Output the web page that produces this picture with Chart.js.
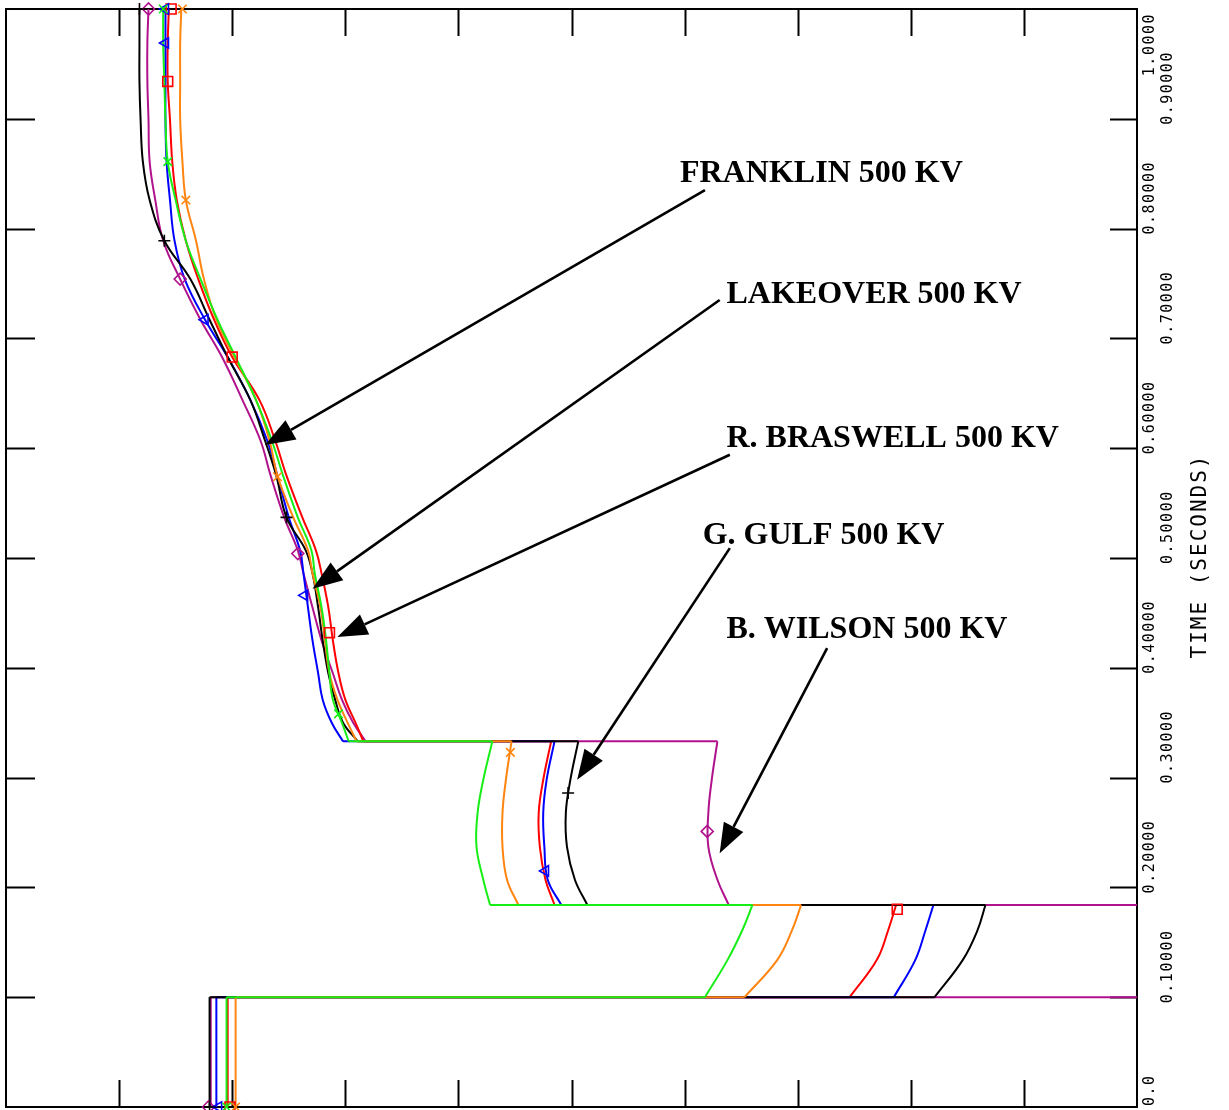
<!DOCTYPE html>
<html>
<head>
<meta charset="utf-8">
<script src="https://cdn.jsdelivr.net/npm/chart.js@4.4.1/dist/chart.umd.min.js"></script>
<style>
  html, body { margin: 0; padding: 0; background: #fff; }
  #wrap { width: 1229px; height: 1110px; }
</style>
</head>
<body>
<div id="wrap"><canvas id="voltChart" width="1229" height="1110"></canvas></div>
<script>
// time samples shared by every bus (seconds); repeated values are the switching steps
const time = [0, 0.1, 0.1, 0.134, 0.161, 0.184, 0.184, 0.207, 0.237, 0.268, 0.298, 0.333,
  0.333, 0.35, 0.371, 0.395, 0.425, 0.455, 0.486, 0.507, 0.537, 0.575, 0.607, 0.644,
  0.683, 0.717, 0.754, 0.789, 0.826, 0.861, 0.899, 0.934, 0.969, 1.0];

// bus values along the horizontal axis (10 divisions, unlabeled)
const blackV = [1.80, 1.80, 8.21, 8.46, 8.59, 8.66, 5.14, 5.03, 4.96, 4.95, 4.99, 5.06,
  3.11, 2.98, 2.91, 2.85, 2.80, 2.76, 2.71, 2.65, 2.48, 2.39, 2.29, 2.16,
  1.96, 1.80, 1.63, 1.40, 1.27, 1.21, 1.19, 1.18, 1.18, 1.18];
const magentaV = [1.81, 1.81, 11, 11, 11, 11, 6.39, 6.29, 6.21, 6.21, 6.24, 6.29,
  3.18, 3.07, 2.97, 2.89, 2.79, 2.71, 2.63, 2.58, 2.46, 2.34, 2.25, 2.09,
  1.91, 1.72, 1.54, 1.39, 1.32, 1.27, 1.26, 1.25, 1.25, 1.26];
const blueV = [1.86, 1.86, 7.85, 8.04, 8.13, 8.20, 4.91, 4.79, 4.76, 4.75, 4.78, 4.85,
  2.98, 2.88, 2.80, 2.76, 2.71, 2.67, 2.63, 2.60, 2.50, 2.40, 2.31, 2.16,
  1.96, 1.76, 1.58, 1.49, 1.45, 1.42, 1.41, 1.41, 1.41, 1.41];
const redV = [1.96, 1.96, 7.46, 7.70, 7.80, 7.87, 4.85, 4.77, 4.72, 4.71, 4.75, 4.82,
  3.16, 3.09, 3.00, 2.94, 2.89, 2.85, 2.79, 2.74, 2.62, 2.48, 2.38, 2.24,
  2.00, 1.84, 1.70, 1.59, 1.51, 1.47, 1.45, 1.43, 1.43, 1.44];
const orangeV = [2.03, 2.03, 6.53, 6.82, 6.95, 7.03, 4.53, 4.43, 4.39, 4.39, 4.42, 4.47,
  3.10, 3.02, 2.93, 2.86, 2.82, 2.78, 2.71, 2.67, 2.54, 2.40, 2.33, 2.21,
  2.02, 1.86, 1.75, 1.68, 1.59, 1.56, 1.54, 1.54, 1.54, 1.55];
const greenV = [1.95, 1.95, 6.18, 6.38, 6.51, 6.60, 4.28, 4.22, 4.16, 4.17, 4.22, 4.30,
  3.03, 2.97, 2.89, 2.86, 2.83, 2.79, 2.73, 2.70, 2.58, 2.45, 2.35, 2.21,
  2.03, 1.87, 1.72, 1.59, 1.50, 1.43, 1.41, 1.40, 1.39, 1.39];

// symbol positions along each curve
const blackMarkT = [0, 0.286, 0.537, 0.789, 1.0];
const blackMarkV = [1.80, 4.97, 2.48, 1.40, 1.18];
const magentaMarkT = [0, 0.251, 0.504, 0.754, 1.0];
const magentaMarkV = [1.79, 6.20, 2.58, 1.54, 1.26];
const blueMarkT = [0, 0.215, 0.466, 0.717, 0.969, 1.0];
const blueMarkV = [1.88, 4.77, 2.64, 1.76, 1.41, 1.41];
const redMarkT = [0, 0.18, 0.432, 0.683, 0.934, 1.0];
const redMarkV = [1.98, 7.88, 2.86, 2.00, 1.43, 1.46];
const orangeMarkT = [0, 0.323, 0.574, 0.826, 1.0];
const orangeMarkV = [2.03, 4.46, 2.40, 1.59, 1.56];
const greenMarkT = [0, 0.358, 0.861, 1.0];
const greenMarkV = [1.95, 2.94, 1.43, 1.39];

const timeTicks = [0, 0.1, 0.2, 0.3, 0.4, 0.5, 0.6, 0.7, 0.8, 0.9, 1.0];
const timeTickLabels = ["0.0", "0.10000", "0.20000", "0.30000", "0.40000", "0.50000",
  "0.60000", "0.70000", "0.80000", "0.90000", "1.0000"];
const valueTicks = [1, 2, 3, 4, 5, 6, 7, 8, 9];

const busLabels = ["FRANKLIN 500 KV", "LAKEOVER 500 KV", "R. BRASWELL 500 KV", "G. GULF 500 KV", "B. WILSON 500 KV"];

// callout placement (text anchor, arrow tail and tip in axis units)
const callouts = [
  { text: busLabels[0], at: [5.96, 0.842], from: [6.18, 0.835], to: [2.29, 0.603] },
  { text: busLabels[1], at: [6.37, 0.732], from: [6.31, 0.735], to: [2.71, 0.472] },
  { text: busLabels[2], at: [6.37, 0.601], from: [6.40, 0.594], to: [2.93, 0.428] },
  { text: busLabels[3], at: [6.16, 0.513], from: [6.40, 0.509], to: [5.05, 0.298] },
  { text: busLabels[4], at: [6.37, 0.427], from: [7.26, 0.418], to: [6.31, 0.231] }
];

const pts = (vs, ts) => vs.map((v, i) => ({ x: v, y: ts[i] }));

// split a curve at the switching steps so each smooth stretch is splined on its own
function lineSets(label, vs, color) {
  const all = pts(vs, time);
  const sets = [];
  let start = 0;
  for (let i = 0; i < all.length - 1; i++) {
    if (time[i] === time[i + 1]) {
      if (i > start) sets.push(all.slice(start, i + 1));
      sets.push(all.slice(i, i + 2));
      start = i + 1;
    }
  }
  sets.push(all.slice(start));
  return sets.map(d => ({ label, data: d, borderColor: color, borderWidth: 2,
    pointRadius: 0, showLine: true, tension: 0.4, fill: false }));
}
function markSet(label, vs, ts, color, style, radius, rot) {
  return { label, data: pts(vs, ts), showLine: false, borderColor: color,
    backgroundColor: "rgba(0,0,0,0)", pointStyle: style, pointRotation: rot || 0,
    pointRadius: radius, pointBorderWidth: 1.6, clip: false };
}

const BLACK = "#000000", MAGENTA = "#b0128c", BLUE = "#0000ff",
  RED = "#ff0000", ORANGE = "#ff8410", GREEN = "#16ee16";

const framePlugin = {
  id: "frame",
  beforeDatasetsDraw(chart) {
    const { ctx, chartArea: a, scales: { x, y } } = chart;
    ctx.save();
    ctx.strokeStyle = "#000";
    ctx.lineWidth = 2;
    ctx.strokeRect(a.left, a.top, a.right - a.left, a.bottom - a.top);
    ctx.beginPath();
    valueTicks.forEach(v => {
      const px = Math.round(x.getPixelForValue(v)) + 0.5;
      ctx.moveTo(px, a.bottom); ctx.lineTo(px, a.bottom - 27);
      ctx.moveTo(px, a.top); ctx.lineTo(px, a.top + 27);
    });
    timeTicks.slice(1, -1).forEach(t => {
      const py = Math.round(y.getPixelForValue(t)) + 0.5;
      ctx.moveTo(a.left, py); ctx.lineTo(a.left + 29, py);
      ctx.moveTo(a.right, py); ctx.lineTo(a.right - 27, py);
    });
    ctx.stroke();

    // rotated time labels, staggered in two columns
    ctx.fillStyle = "#000";
    ctx.font = "15px 'DejaVu Sans Mono'";
    ctx.letterSpacing = "1.5px";
    ctx.textAlign = "center";
    ctx.textBaseline = "middle";
    timeTicks.forEach((t, i) => {
      const txt = timeTickLabels[i];
      const w = ctx.measureText(txt).width;
      let cy = y.getPixelForValue(t) + 6 - w / 2;
      cy = Math.min(Math.max(cy, a.top + 4 + w / 2), a.bottom - 1 - w / 2);
      const cx = a.right + (i % 2 === 0 ? 13 : 31);
      ctx.save();
      ctx.translate(cx, cy);
      ctx.rotate(-Math.PI / 2);
      ctx.fillText(txt, 0, 0);
      ctx.restore();
    });
    ctx.font = "21px 'DejaVu Sans Mono'";
    ctx.letterSpacing = "2px";
    ctx.save();
    ctx.translate(a.right + 64, 556);
    ctx.rotate(-Math.PI / 2);
    ctx.fillText("TIME (SECONDS)", 0, 0);
    ctx.restore();
    ctx.restore();
  },
  afterDraw(chart) {
    const { ctx, scales: { x, y } } = chart;
    ctx.save();
    ctx.fillStyle = "#000";
    ctx.strokeStyle = "#000";
    ctx.font = "bold 32px 'Liberation Serif'";
    ctx.textAlign = "left";
    ctx.textBaseline = "alphabetic";
    callouts.forEach(c => {
      ctx.fillText(c.text, x.getPixelForValue(c.at[0]), y.getPixelForValue(c.at[1]));
      const x0 = x.getPixelForValue(c.from[0]), y0 = y.getPixelForValue(c.from[1]);
      const x1 = x.getPixelForValue(c.to[0]), y1 = y.getPixelForValue(c.to[1]);
      const ang = Math.atan2(y1 - y0, x1 - x0);
      const len = 30, half = 11;
      const bx = x1 - len * Math.cos(ang), by = y1 - len * Math.sin(ang);
      ctx.lineWidth = 2.6;
      ctx.beginPath(); ctx.moveTo(x0, y0); ctx.lineTo(bx, by); ctx.stroke();
      ctx.beginPath();
      ctx.moveTo(x1, y1);
      ctx.lineTo(bx + half * Math.sin(ang), by - half * Math.cos(ang));
      ctx.lineTo(bx - half * Math.sin(ang), by + half * Math.cos(ang));
      ctx.closePath(); ctx.fill();
    });
    ctx.restore();
  }
};

const chartCtx = document.getElementById("voltChart").getContext("2d");
new Chart(chartCtx, {
  type: "scatter",
  data: {
    datasets: [
      markSet("green marks", greenMarkV, greenMarkT, GREEN, "crossRot", 6),
      markSet("orange marks", orangeMarkV, orangeMarkT, ORANGE, "crossRot", 6),
      markSet("black marks", blackMarkV, blackMarkT, BLACK, "cross", 6),
      markSet("blue marks", blueMarkV, blueMarkT, BLUE, "triangle", 6, -90),
      markSet("red marks", redMarkV, redMarkT, RED, "rect", 7),
      markSet("magenta marks", magentaMarkV, magentaMarkT, MAGENTA, "rectRot", 6),
      ...lineSets("green", greenV, GREEN),
      ...lineSets("orange", orangeV, ORANGE),
      ...lineSets("black", blackV, BLACK),
      ...lineSets("blue", blueV, BLUE),
      ...lineSets("red", redV, RED),
      ...lineSets("magenta", magentaV, MAGENTA)
    ]
  },
  options: {
    responsive: false,
    animation: false,
    layout: { autoPadding: false, padding: { left: 6, top: 9, right: 92, bottom: 3 } },
    plugins: { legend: { display: false }, tooltip: { enabled: false } },
    scales: {
      x: { type: "linear", min: 0, max: 10, display: false },
      y: { type: "linear", min: 0, max: 1, display: false }
    }
  },
  plugins: [framePlugin]
});
</script>
</body>
</html>
